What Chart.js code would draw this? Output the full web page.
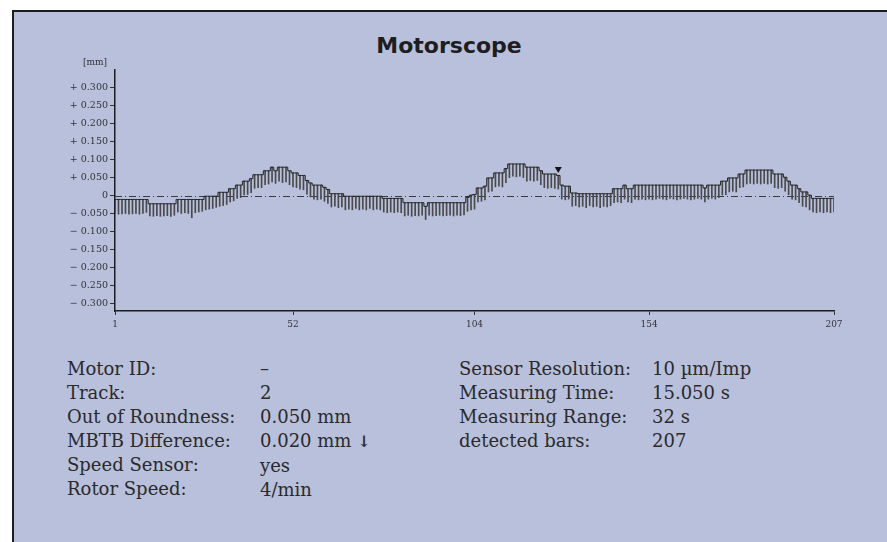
<!DOCTYPE html>
<html>
<head>
<meta charset="utf-8">
<script src="https://cdn.jsdelivr.net/npm/chart.js@4"></script>
<style>
  body { margin: 0; background: #fff; width: 887px; height: 542px; overflow: hidden; position: relative; }
  .frame { position: absolute; left: 12px; top: 10px; width: 890px; height: 560px;
           border: 2px solid #1c1c1c; background: #b8c0dc; }
  .title { position: absolute; left: 349px; width: 200px; top: 33px; text-align: center;
           font: bold 22px "DejaVu Sans", sans-serif; color: #1e1e1e; }
  .chartBox { position: absolute; left: 14px; top: 50px; width: 840px; height: 295px; }
  .info { position: absolute; font: 18px "DejaVu Serif", serif; color: #2a2a2a; line-height: 24px; white-space: nowrap; }
</style>
</head>
<body>
<div class="frame"></div>
<div class="title">Motorscope</div>
<div class="chartBox"><canvas id="motorChart"></canvas></div>

<div class="info" style="left:67px; top:357px">Motor ID:<br>Track:<br>Out of Roundness:<br>MBTB Difference:<br>Speed Sensor:<br>Rotor Speed:</div>
<div class="info" style="left:260px; top:357px">–<br>2<br>0.050 mm<br>0.020 mm <span style="font-size:16px; font-weight:bold">↓</span><br>yes<br>4/min</div>
<div class="info" style="left:459px; top:357px">Sensor Resolution:<br>Measuring Time:<br>Measuring Range:<br>detected bars:</div>
<div class="info" style="left:652px; top:357px">10 µm/Imp<br>15.050 s<br>32 s<br>207</div>

<script>
// bar top levels [mm], bars 1..207
const barTops = [
  -0.011, -0.011, -0.011, -0.011, -0.011, -0.011, -0.011, -0.011, -0.011, -0.011,
  -0.023, -0.023, -0.023, -0.023, -0.023, -0.023, -0.023, -0.023, -0.011, -0.011,
  -0.011, -0.011, -0.011, -0.011, -0.011, -0.011, -0.002, -0.002, -0.002, -0.002,
  0.009, 0.009, 0.009, 0.019, 0.019, 0.029, 0.029, 0.040, 0.040, 0.047,
  0.058, 0.058, 0.058, 0.069, 0.069, 0.079, 0.069, 0.079, 0.079, 0.079,
  0.069, 0.063, 0.063, 0.056, 0.056, 0.042, 0.035, 0.029, 0.029, 0.029,
  0.023, 0.017, 0.005, 0.005, 0.005, 0.005, -0.002, -0.002, -0.002, -0.002,
  -0.002, -0.002, -0.002, -0.002, -0.002, -0.002, -0.002, -0.008, -0.008, -0.008,
  -0.008, -0.008, -0.008, -0.020, -0.020, -0.020, -0.020, -0.020, -0.020, -0.030,
  -0.020, -0.020, -0.020, -0.020, -0.020, -0.020, -0.020, -0.020, -0.020, -0.020,
  -0.020, -0.005, 0.001, 0.003, 0.021, 0.021, 0.026, 0.049, 0.049, 0.063,
  0.063, 0.063, 0.075, 0.088, 0.088, 0.088, 0.088, 0.088, 0.079, 0.079,
  0.079, 0.079, 0.069, 0.060, 0.060, 0.060, 0.060, 0.056, 0.029, 0.026,
  0.026, 0.007, 0.007, 0.005, 0.005, 0.005, 0.005, 0.005, 0.005, 0.005,
  0.005, 0.005, 0.005, 0.019, 0.019, 0.019, 0.029, 0.019, 0.019, 0.029,
  0.029, 0.029, 0.029, 0.029, 0.029, 0.029, 0.029, 0.029, 0.029, 0.029,
  0.029, 0.029, 0.029, 0.029, 0.029, 0.029, 0.029, 0.029, 0.029, 0.021,
  0.029, 0.029, 0.029, 0.029, 0.040, 0.040, 0.049, 0.049, 0.049, 0.060,
  0.060, 0.071, 0.071, 0.071, 0.071, 0.071, 0.071, 0.071, 0.071, 0.060,
  0.060, 0.060, 0.051, 0.040, 0.029, 0.029, 0.019, 0.010, 0.010, 0.001,
  -0.008, -0.008, -0.008, -0.008, -0.008, -0.008, -0.008
];

// lower end of each bar [mm]
const barBottoms = [
  -0.050, -0.052, -0.051, -0.050, -0.052, -0.051, -0.050, -0.052, -0.050, -0.047,
  -0.057, -0.058, -0.056, -0.058, -0.057, -0.056, -0.058, -0.055, -0.046, -0.050,
  -0.048, -0.050, -0.062, -0.048, -0.046, -0.044, -0.040, -0.038, -0.036, -0.033,
  -0.030, -0.028, -0.025, -0.018, -0.015, -0.008, -0.006, 0.002, 0.003, 0.008,
  0.020, 0.022, 0.022, 0.030, 0.032, 0.038, 0.034, 0.040, 0.036, 0.038,
  0.030, 0.024, 0.022, 0.018, 0.016, 0.004, -0.004, -0.010, -0.012, -0.010,
  -0.016, -0.022, -0.032, -0.030, -0.034, -0.032, -0.040, -0.038, -0.040, -0.036,
  -0.040, -0.038, -0.040, -0.036, -0.040, -0.038, -0.040, -0.046, -0.048, -0.046,
  -0.048, -0.046, -0.048, -0.057, -0.055, -0.058, -0.056, -0.057, -0.055, -0.067,
  -0.055, -0.057, -0.056, -0.055, -0.057, -0.056, -0.055, -0.057, -0.055, -0.056,
  -0.054, -0.044, -0.040, -0.038, -0.018, -0.016, -0.012, 0.010, 0.012, 0.024,
  0.026, 0.024, 0.036, 0.050, 0.054, 0.052, 0.054, 0.050, 0.040, 0.042,
  0.040, 0.042, 0.030, 0.022, 0.020, 0.022, 0.020, 0.018, -0.010, -0.012,
  -0.010, -0.030, -0.028, -0.032, -0.030, -0.034, -0.028, -0.032, -0.030, -0.034,
  -0.030, -0.032, -0.028, -0.020, -0.018, -0.020, -0.010, -0.018, -0.020, -0.010,
  -0.012, -0.010, -0.012, -0.010, -0.012, -0.010, -0.008, -0.010, -0.012, -0.008,
  -0.010, -0.012, -0.010, -0.008, -0.010, -0.012, -0.010, -0.008, -0.010, -0.018,
  -0.010, -0.008, -0.010, -0.006, 0.000, 0.002, 0.010, 0.012, 0.010, 0.022,
  0.024, 0.032, 0.034, 0.032, 0.034, 0.032, 0.034, 0.032, 0.034, 0.022,
  0.020, 0.022, 0.012, 0.002, -0.010, -0.012, -0.020, -0.030, -0.032, -0.040,
  -0.046, -0.048, -0.046, -0.048, -0.046, -0.048, -0.046
];

const xTicks = [1, 52, 104, 154, 207];
const yTicks = [-0.30, -0.25, -0.20, -0.15, -0.10, -0.05, 0, 0.05, 0.10, 0.15, 0.20, 0.25, 0.30];
const markerBar = 128;
const markerValue = 0.074;

const serif = '"DejaVu Serif", serif';

// zero reference line (dash-dot) and the [mm] unit label
const extras = {
  id: 'extras',
  beforeDatasetsDraw(chart) {
    const { ctx, chartArea, scales } = chart;
    const y0 = Math.round(scales.y.getPixelForValue(0)) + 0.5;
    ctx.save();
    ctx.strokeStyle = '#3a3a3a';
    ctx.lineWidth = 1;
    ctx.setLineDash([7, 3, 1, 3]);
    ctx.beginPath();
    ctx.moveTo(chartArea.left, y0);
    ctx.lineTo(chartArea.right, y0);
    ctx.stroke();
    ctx.restore();
  },
  afterDraw(chart) {
    const { ctx, chartArea } = chart;
    ctx.save();
    ctx.font = '9px ' + serif;
    ctx.fillStyle = '#333';
    ctx.textAlign = 'center';
    ctx.fillText('[mm]', chartArea.left - 20, chartArea.top - 5);
    ctx.restore();
  }
};

new Chart(document.getElementById('motorChart').getContext('2d'), {
  type: 'bar',
  data: {
    datasets: [
      {
        type: 'scatter',
        data: [{ x: markerBar, y: markerValue }],
        pointStyle: 'triangle',
        rotation: 180,
        radius: 4,
        backgroundColor: '#111',
        borderColor: '#111',
        borderWidth: 0,
        order: 0
      },
      {
        type: 'line',
        data: barTops.map((v, i) => ({ x: i + 1, y: v })),
        stepped: 'middle',
        borderColor: '#222',
        borderWidth: 1,
        pointRadius: 0,
        order: 1
      },
      {
        type: 'bar',
        data: barTops.map((v, i) => ({ x: i + 1, y: [barBottoms[i], v] })),
        backgroundColor: '#4a4a4a',
        barThickness: 1,
        order: 2
      }
    ]
  },
  options: {
    responsive: true,
    maintainAspectRatio: false,
    animation: false,
    layout: { padding: { top: 20, right: 20, left: 0, bottom: 0 } },
    plugins: { legend: { display: false }, tooltip: { enabled: false } },
    scales: {
      x: {
        type: 'linear',
        min: 1,
        max: 207,
        offset: false,
        afterBuildTicks: s => { s.ticks = xTicks.map(v => ({ value: v })); },
        afterFit: s => { s.height = 34; },
        grid: { drawOnChartArea: false, offset: false, tickLength: 4, color: '#333' },
        border: { color: '#1e1e1e', width: 1.5 },
        ticks: { font: { family: serif, size: 9 }, color: '#333', padding: 4, maxRotation: 0 }
      },
      y: {
        min: -0.322,
        max: 0.35,
        afterBuildTicks: s => { s.ticks = yTicks.map(v => ({ value: v })); },
        afterFit: s => { s.width = 101; },
        grid: { drawOnChartArea: false, tickLength: 5, color: '#333' },
        border: { color: '#1e1e1e', width: 1.5 },
        ticks: {
          font: { family: serif, size: 9.5 },
          color: '#333',
          padding: 2,
          callback: v => Math.abs(v) < 1e-9 ? '0' : (v > 0 ? '+ ' : '− ') + Math.abs(v).toFixed(3)
        }
      }
    }
  },
  plugins: [extras]
});
</script>
</body>
</html>
